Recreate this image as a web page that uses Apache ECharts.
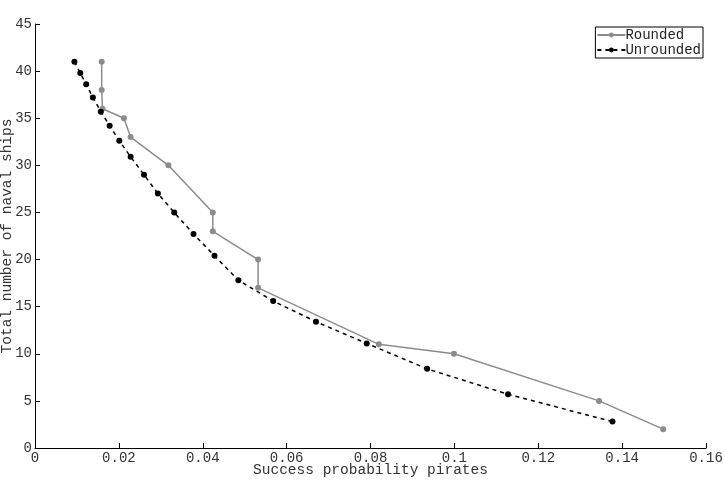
<!DOCTYPE html>
<html>
<head>
<meta charset="utf-8">
<script src="https://cdn.jsdelivr.net/npm/echarts@6/dist/echarts.min.js"></script>
<style>
  html, body { margin: 0; padding: 0; background: #fff; }
  #chart { width: 725px; height: 492px; }
</style>
</head>
<body>
<div id="chart"></div>
<script>
// rounded solution (grey)
const roundedX = [0.0159, 0.0159, 0.0161, 0.0212, 0.0228, 0.0318, 0.0424, 0.0424, 0.0532, 0.0532, 0.0820, 0.0999, 0.1345, 0.1498];
const roundedY = [41, 38, 36, 35, 33, 30, 25, 23, 20, 17, 11, 10, 5, 2];

// unrounded solution (black, dashed)
const unroundedX = [0.0094, 0.0108, 0.0122, 0.0138, 0.0157, 0.0178, 0.0201, 0.0228, 0.0260, 0.0293, 0.0332, 0.0378, 0.0428, 0.0485, 0.0568, 0.0670, 0.0791, 0.0935, 0.1128, 0.1377];
const unroundedY = [41.0, 39.8, 38.6, 37.2, 35.7, 34.2, 32.6, 30.9, 29.0, 27.0, 25.0, 22.7, 20.4, 17.8, 15.6, 13.4, 11.1, 8.4, 5.7, 2.8];

const font = "'Liberation Mono', 'DejaVu Sans Mono', monospace";
const zip = (xs, ys) => xs.map((x, i) => [x, ys[i]]);

const chart = echarts.init(document.getElementById("chart"));
chart.setOption({
  animation: false,
  grid: { left: 35, right: 19, top: 24, bottom: 44, outerBoundsMode: "none", containLabel: false },
  legend: {
    orient: "vertical",
    right: 22,
    top: 27,
    data: ["Rounded", "Unrounded"],
    borderColor: "#000",
    borderWidth: 1,
    borderRadius: 0,
    padding: [1, 2, 1, 1],
    itemGap: 1,
    itemWidth: 28,
    itemHeight: 6,
    textStyle: { fontFamily: font, fontSize: 14, color: "#222", padding: [0, 0, 0, -5] },
  },
  xAxis: {
    type: "value",
    min: 0,
    max: 0.16,
    interval: 0.02,
    name: "Success probability pirates",
    nameLocation: "middle",
    nameGap: 15,
    nameMoveOverlap: false,
    nameTextStyle: { fontFamily: font, fontSize: 14.5, color: "#333" },
    axisLine: { lineStyle: { color: "#000", width: 1 } },
    axisTick: { inside: true, length: 5, lineStyle: { color: "#000" } },
    axisLabel: { fontFamily: font, fontSize: 14, color: "#333", margin: 3 },
    splitLine: { show: false },
  },
  yAxis: {
    type: "value",
    min: 0,
    max: 45,
    interval: 5,
    name: "Total number of naval ships",
    nameLocation: "middle",
    nameGap: 20,
    nameMoveOverlap: false,
    nameTextStyle: { fontFamily: font, fontSize: 14.5, color: "#333" },
    axisLine: { show: true, lineStyle: { color: "#000", width: 1 } },
    axisTick: { show: true, inside: true, length: 5, lineStyle: { color: "#000" } },
    axisLabel: { fontFamily: font, fontSize: 14, color: "#333", margin: 3 },
    splitLine: { show: false },
  },
  series: [
    {
      name: "Rounded",
      type: "line",
      data: zip(roundedX, roundedY),
      symbol: "circle",
      symbolSize: 6,
      itemStyle: { color: "#8c8c8c" },
      lineStyle: { color: "#8c8c8c", width: 1.5 },
    },
    {
      name: "Unrounded",
      type: "line",
      data: zip(unroundedX, unroundedY),
      symbol: "circle",
      symbolSize: 6,
      itemStyle: { color: "#000" },
      lineStyle: { color: "#000", width: 1.5, type: [4, 4] },
    },
  ],
});
</script>
</body>
</html>
